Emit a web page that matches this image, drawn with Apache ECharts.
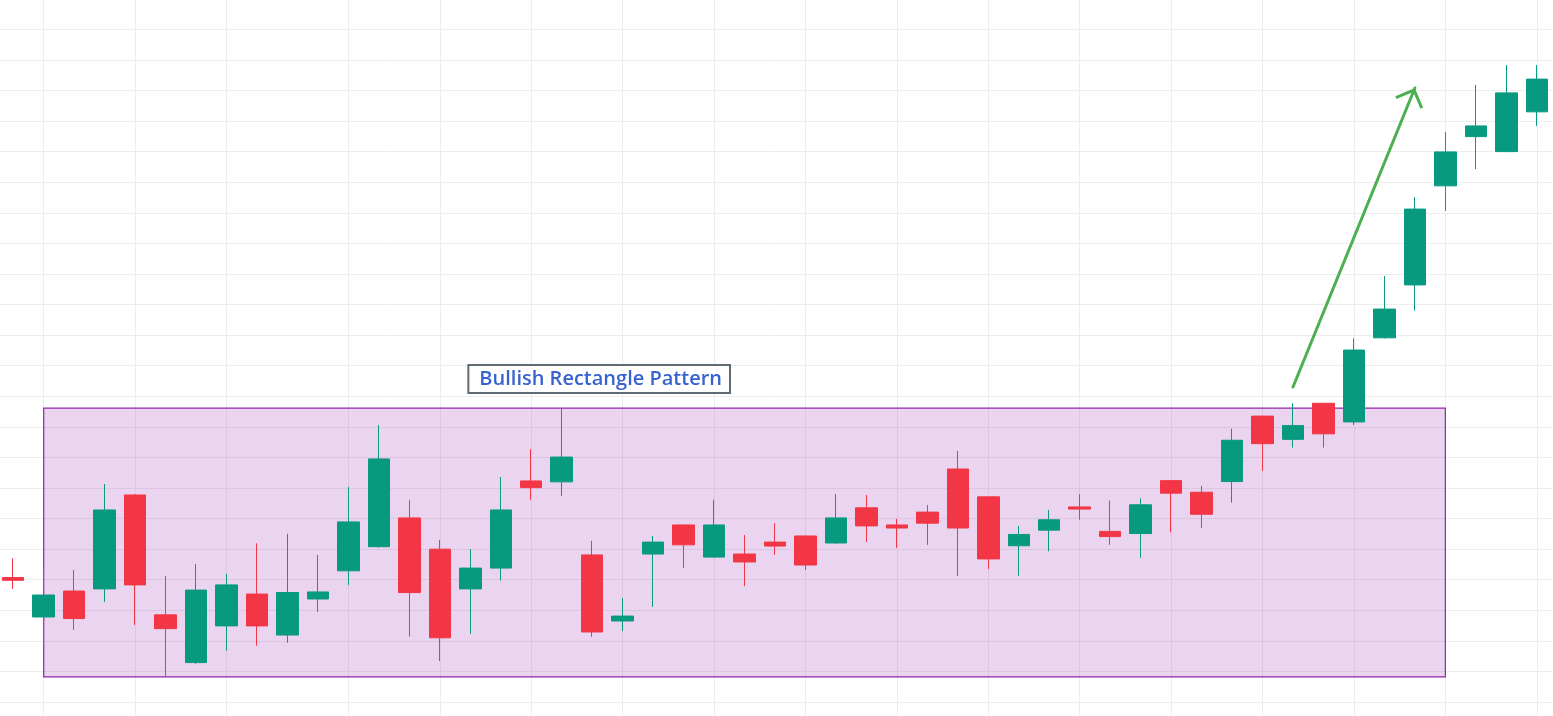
<!DOCTYPE html>
<html>
<head>
<meta charset="utf-8">
<script src="https://cdn.jsdelivr.net/npm/echarts@6/dist/echarts.min.js"></script>
<style>
  html, body { margin: 0; padding: 0; background: #ffffff; }
  #c { width: 1553px; height: 716px; }
</style>
</head>
<body>
<div id="c"></div>
<script>
// ---- data ----
const categories = ['1','2','3','4','5','6','7','8','9','10','11','12','13','14','15','16','17','18','19','20',
  '21','22','23','24','25','26','27','28','29','30','31','32','33','34','35','36','37','38','39','40',
  '41','42','43','44','45','46','47','48','49','50','51'];
const opens = [105.07,103.78,104.63,104.70,107.77,103.85,102.29,103.49,104.53,103.19,
  104.37,105.29,106.08,107.02,106.00,104.70,105.38,108.23,108.20,105.81,
  103.65,105.84,106.79,105.74,105.84,106.23,106.43,106.20,107.35,106.79,
  107.21,108.62,107.71,106.11,106.62,107.38,106.58,106.51,108.24,107.86,
  108.21,110.35,109.59,110.77,110.16,112.91,114.64,117.88,119.49,119.00,120.30];
const closes = [104.98,104.50,103.73,107.28,104.83,103.40,104.66,104.83,103.49,104.58,
  104.60,106.89,108.95,104.58,103.10,105.38,107.28,108.01,109.01,103.29,
  103.81,106.23,106.14,106.79,105.58,106.10,105.48,107.02,106.76,106.69,
  106.85,106.69,105.68,106.48,106.96,107.31,106.41,107.45,107.83,107.14,
  109.56,109.45,110.04,109.77,112.51,113.85,117.12,118.99,119.84,120.92,121.37];
const lows = [104.70,102.92,103.36,104.27,103.52,101.83,102.25,102.68,102.84,102.94,
  103.95,104.83,106.05,103.14,102.34,103.23,104.97,107.61,107.74,103.13,
  103.32,104.11,105.38,105.72,104.79,105.81,105.32,106.18,106.23,106.04,
  106.14,105.12,105.35,105.13,105.93,106.96,106.14,105.72,106.55,106.69,
  107.52,108.56,109.32,109.32,110.06,112.89,113.80,117.06,118.43,118.98,119.84];
const highs = [105.70,105.37,105.32,108.13,107.80,105.12,105.51,105.19,106.19,106.50,
  105.81,108.03,110.06,107.61,106.30,106.00,108.36,109.27,110.61,106.27,
  104.40,106.43,106.80,107.61,106.46,106.85,106.44,107.80,107.77,106.99,
  107.44,109.21,107.72,106.76,107.28,107.80,107.59,107.66,108.25,108.07,
  109.94,110.36,110.77,110.78,112.89,114.93,117.51,119.64,121.18,121.83,121.83];

// vertical grid lines (category indices)
const vGridIdx = [1,4,7,11,14,17,20,23,26,29,32,35,38,41,44,47,50];
// price axis
const yMin = 100, yMax = 124, yStep = 1;
// rectangle pattern: [startIdx, endIdx], [top, bottom]
const rectIdx = [1, 47];
const rectPrice = [110.61, 101.82];
// breakout arrow: [idx, price] start and end
const arrowStart = [42, 111.30];
const arrowEnd = [46, 121.08];
// annotation label
const annotationText = 'Bullish Rectangle Pattern';
const annotationAt = [19, 111.56];

const GREEN = '#089981';
const RED = '#f23645';
const GRID = '#ededed';

const candleData = opens.map((o, i) => [o, closes[i], lows[i], highs[i]]);

const chevron = 'path://M15,-17.1L15.01,-17.1L15,-17.09Z M15,0L30,15L27.9,17.1L15,4.2L2.1,17.1L0,15Z';

const chart = echarts.init(document.getElementById('c'), null, { renderer: 'canvas' });
chart.setOption({
  animation: false,
  backgroundColor: '#ffffff',
  grid: { left: -2, right: 1, top: -1.3, height: 733.9, containLabel: false, outerBoundsMode: 'none' },
  xAxis: {
    type: 'category', data: categories, boundaryGap: true,
    axisLine: { show: false }, axisTick: { show: false }, axisLabel: { show: false },
    splitLine: { show: false }
  },
  yAxis: {
    type: 'value', min: yMin, max: yMax, interval: yStep, scale: false,
    axisLine: { show: false }, axisTick: { show: false }, axisLabel: { show: false },
    splitLine: { show: true, lineStyle: { color: GRID, width: 1 } }
  },
  series: [
    {
      name: 'vgrid', type: 'line', data: [], z: 0, silent: true,
      markLine: {
        z: 0, zlevel: 0,
        silent: true, animation: false, symbol: ['none', 'none'],
        label: { show: false }, emphasis: { disabled: true },
        lineStyle: { color: GRID, width: 1, type: 'solid' },
        data: vGridIdx.map(i => ({ xAxis: categories[i] }))
      }
    },
    {
      name: 'rect', type: 'line', data: [], z: 1, silent: true,
      markArea: {
        z: 1,
        silent: true, animation: false,
        itemStyle: { color: 'rgba(156,39,176,0.2)', borderColor: '#9124a8', borderWidth: 1.2 },
        label: { show: false }, emphasis: { disabled: true },
        data: [[
          { coord: [categories[rectIdx[0]], rectPrice[0]] },
          { coord: [categories[rectIdx[1]], rectPrice[1]] }
        ]]
      }
    },
    {
      name: 'price', type: 'candlestick', data: candleData, z: 3,
      barWidth: 22,
      itemStyle: {
        color: GREEN, color0: RED, borderColor: GREEN, borderColor0: RED,
        borderColorDoji: RED, borderWidth: 1
      }
    },
    {
      name: 'annot', type: 'line', data: [], z: 5, silent: true,
      markLine: {
        z: 6,
        silent: true, animation: false,
        label: { show: false }, emphasis: { disabled: true },
        lineStyle: { color: '#4caf50', width: 3, type: 'solid', cap: 'round' },
        symbol: ['none', chevron],
        data: [[
          { coord: [categories[arrowStart[0]], arrowStart[1]], symbol: 'none' },
          { coord: [categories[arrowEnd[0]], arrowEnd[1]], symbol: chevron, symbolSize: [30, 34.2],
            itemStyle: { color: '#4caf50' } }
        ]]
      },
      markPoint: {
        z: 6,
        silent: true, animation: false,
        data: [{
          coord: [categories[annotationAt[0]], annotationAt[1]],
          symbol: 'rect', symbolSize: 1,
          itemStyle: { color: 'rgba(0,0,0,0)' },
          label: {
            show: true, position: 'inside', offset: [7, 0],
            formatter: annotationText,
            color: '#3763d1', fontFamily: 'Open Sans', fontWeight: 600, fontSize: 20,
            lineHeight: 22,
            backgroundColor: '#ffffff', borderColor: '#5f6b73', borderWidth: 2,
            padding: [2, 7, 2, 10]
          }
        }]
      }
    }
  ]
});
</script>
</body>
</html>
